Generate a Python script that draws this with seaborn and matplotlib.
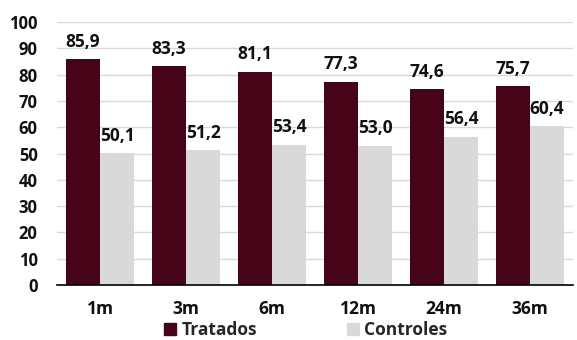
import matplotlib
matplotlib.use("Agg")
import matplotlib.pyplot as plt
import seaborn as sns
import pandas as pd

periodos = ["1m", "3m", "6m", "12m", "24m", "36m"]
tratados = [85.9, 83.3, 81.1, 77.3, 74.6, 75.7]
controles = [50.1, 51.2, 53.4, 53.0, 56.4, 60.4]
grupos = ["Tratados", "Controles"]
cores = ["#450418", "#d9d9d9"]

df = pd.DataFrame({
    "periodo": periodos * 2,
    "valor": tratados + controles,
    "grupo": [grupos[0]] * len(periodos) + [grupos[1]] * len(periodos),
})

sns.set_style("white")
plt.rcParams["font.family"] = ["Open Sans", "DejaVu Sans"]
plt.rcParams["font.weight"] = "bold"

fig = plt.figure(figsize=(5.77, 3.40), dpi=100)
ax = fig.add_axes([0.099, 0.162, 0.894, 0.773])

sns.barplot(data=df, x="periodo", y="valor", hue="grupo", palette=cores,
            width=0.8, saturation=1, linewidth=0, ax=ax, legend=False, zorder=3)

for cont in ax.containers:
    ax.bar_label(cont, labels=[f"{v:.1f}".replace(".", ",") for v in cont.datavalues],
                 padding=6, fontsize=12.5, fontweight="bold", color="#111111")

ax.set_ylim(0, 100)
ax.set_yticks(range(0, 101, 10))
ax.yaxis.grid(True, color="#d9d9d9", linewidth=1, zorder=0)
ax.set_axisbelow(True)
for s in ["top", "right", "left"]:
    ax.spines[s].set_visible(False)
ax.spines["bottom"].set_color("black")
ax.spines["bottom"].set_linewidth(1.2)
ax.spines["bottom"].set_zorder(4)
ax.tick_params(axis="y", length=0, pad=14, labelsize=12, labelcolor="#111111")
ax.tick_params(axis="x", length=0, pad=11, labelsize=12.5, labelcolor="#111111")
for lab in ax.get_xticklabels() + ax.get_yticklabels():
    lab.set_fontweight("bold")
ax.set_xlabel("")
ax.set_ylabel("")

handles = [plt.Rectangle((0, 0), 1, 1, color=c) for c in cores]
fig.legend(handles, grupos, loc="center", bbox_to_anchor=(0.53, 0.03), ncol=2,
           frameon=False, handlelength=0.7, handleheight=0.7,
           handletextpad=0.3, columnspacing=5.2,
           prop={"family": ["Open Sans", "DejaVu Sans"], "weight": "bold", "size": 12.5})

fig.savefig("out.png", dpi=100)
